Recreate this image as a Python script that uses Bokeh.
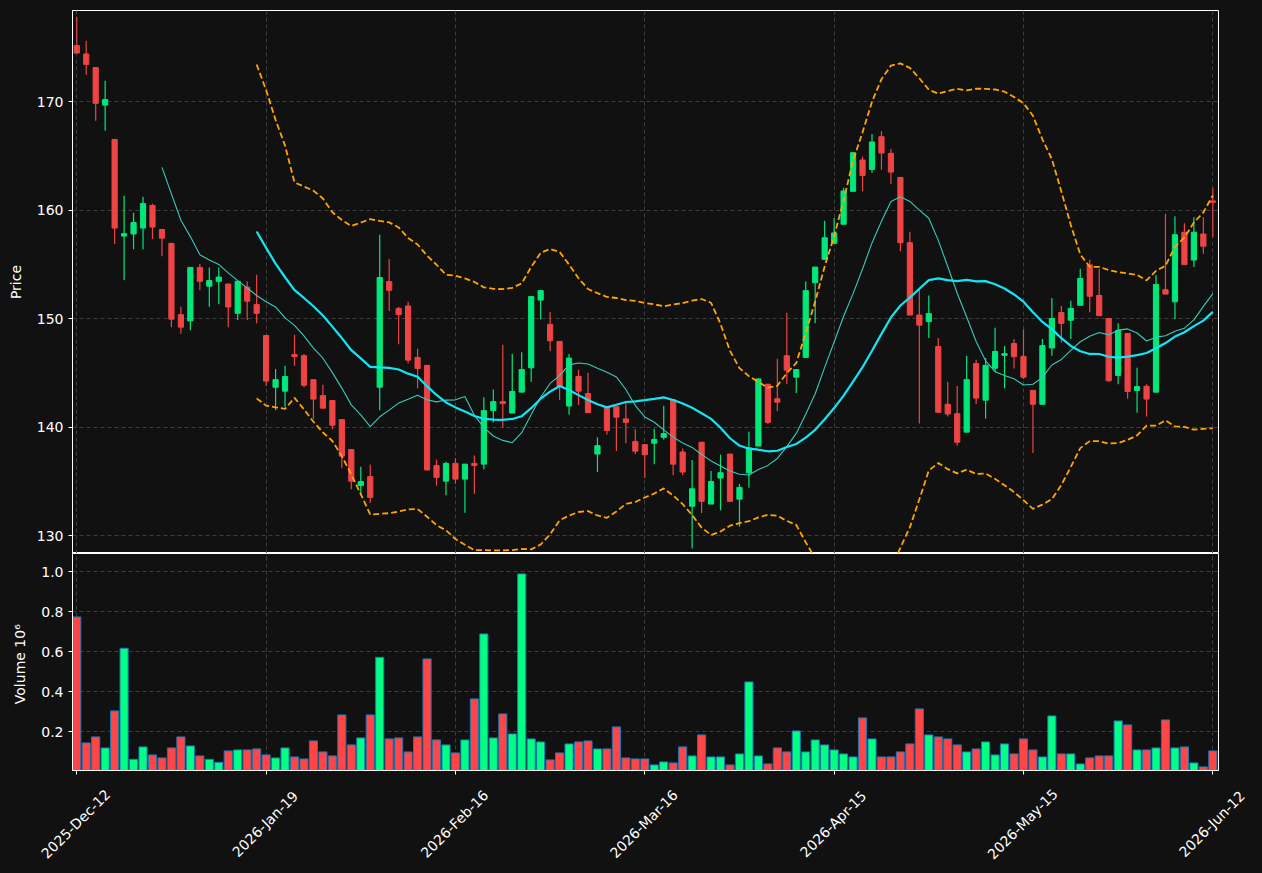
import math
import numpy as np
import pandas as pd
from bokeh.plotting import figure
from bokeh.layouts import column
from bokeh.models import Range1d, FixedTicker, ColumnDataSource, PrintfTickFormatter
from bokeh.core.properties import value
from bokeh.embed import file_html
from bokeh.resources import INLINE

# ---------------- data ----------------
opens = [
    175.2, 174.42, 173.17, 169.71, 166.54, 157.63, 157.82, 158.37, 160.45, 158.24,
    156.96, 150.38, 149.81, 154.74, 153.01, 153.46, 153.21, 150.51, 152.92, 151.31,
    148.46, 143.69, 143.33, 146.7, 146.6, 144.39, 142.92, 142.47, 140.71, 137.95,
    134.62, 135.45, 143.69, 153.43, 150.96, 151.19, 146.44, 145.71, 136.47, 135.03,
    136.67, 135.22, 136.67, 136.6, 141.54, 142.37, 141.31, 143.24, 145.48, 151.73,
    149.49, 147.92, 141.96, 144.68, 143.11, 137.53, 141.89, 141.89, 140.77, 138.69,
    138.4, 138.53, 139.07, 142.53, 137.72, 132.72, 138.62, 132.92, 135.32, 137.53,
    133.37, 135.8, 138.27, 143.97, 142.63, 146.6, 144.62, 146.44, 153.33, 155.48,
    156.96, 158.72, 161.76, 164.65, 163.78, 166.79, 165.26, 163.04, 157.02, 150.35,
    149.74, 147.44, 142.12, 141.25, 139.55, 145.87, 142.5, 145.45, 146.63, 147.72,
    146.54, 143.4, 142.12, 147.31, 150.58, 149.87, 151.25, 154.97, 152.15, 150.03,
    144.78, 148.65, 143.4, 143.78, 143.24, 152.69, 151.57, 157.98, 155.42, 157.82,
    160.87]
closes = [
    174.5, 173.46, 169.87, 170.22, 158.37, 157.85, 158.88, 160.64, 158.46, 157.44,
    149.97, 149.23, 154.74, 153.46, 153.53, 153.85, 151.09, 153.46, 151.63, 150.51,
    144.26, 144.39, 144.68, 146.51, 143.88, 142.6, 141.76, 140.19, 137.34, 135.03,
    135.0, 133.53, 153.81, 152.63, 150.38, 146.19, 145.42, 136.06, 135.38, 136.67,
    135.22, 136.6, 136.47, 141.54, 142.37, 142.18, 143.3, 145.32, 152.05, 152.6,
    147.98, 143.81, 146.38, 143.33, 141.35, 138.3, 139.71, 140.93, 140.45, 137.79,
    137.47, 138.88, 139.42, 136.6, 135.87, 134.33, 133.17, 135.0, 135.81, 133.17,
    134.46, 138.1, 144.46, 140.45, 142.31, 145.26, 145.32, 152.6, 154.77, 157.47,
    157.92, 161.79, 165.32, 163.21, 166.31, 165.29, 163.53, 157.02, 150.35, 149.42,
    150.48, 141.38, 141.22, 138.62, 144.39, 142.69, 145.71, 146.99, 146.79, 146.51,
    144.62, 142.12, 147.53, 150.03, 149.58, 150.96, 153.72, 152.08, 150.29, 144.29,
    148.94, 143.3, 143.75, 142.6, 153.17, 152.28, 157.76, 155.0, 157.98, 156.7,
    160.74]
highs = [
    177.85, 175.64, 173.2, 171.96, 166.54, 161.35, 159.78, 161.25, 160.61, 158.24,
    156.96, 151.12, 154.74, 155.06, 154.74, 154.71, 153.21, 153.46, 153.43, 154.07,
    148.46, 145.38, 145.67, 148.53, 146.76, 144.39, 143.91, 142.47, 140.71, 137.95,
    136.35, 136.57, 157.76, 155.51, 151.12, 151.57, 147.24, 145.71, 137.02, 136.83,
    137.15, 136.6, 137.4, 142.76, 143.49, 147.6, 146.76, 146.92, 152.05, 152.6,
    150.64, 147.92, 146.76, 145.32, 145.03, 139.07, 141.89, 141.89, 142.21, 139.81,
    138.4, 139.87, 141.99, 142.53, 138.04, 136.99, 138.62, 135.96, 137.47, 137.53,
    134.78, 139.58, 144.46, 143.97, 146.31, 150.55, 145.32, 153.43, 154.77, 159.04,
    159.3, 162.08, 165.32, 164.97, 167.05, 167.31, 165.67, 163.04, 158.04, 152.79,
    152.15, 148.24, 144.2, 143.81, 146.6, 146.22, 146.38, 149.17, 147.5, 148.14,
    149.01, 143.4, 148.14, 151.92, 151.19, 151.67, 154.62, 155.45, 154.62, 150.03,
    149.58, 148.65, 145.48, 143.97, 154.04, 159.68, 159.46, 158.81, 159.36, 159.36,
    162.08]
lows = [
    174.5, 172.5, 168.27, 167.34, 156.89, 153.59, 156.41, 156.41, 157.37, 155.77,
    149.23, 148.62, 148.94, 152.63, 151.12, 151.35, 149.23, 149.9, 149.9, 149.58,
    143.81, 141.57, 141.89, 145.67, 143.69, 140.77, 141.76, 139.81, 136.22, 134.29,
    133.72, 133.01, 141.57, 150.71, 147.66, 145.9, 143.59, 136.06, 134.62, 133.72,
    134.78, 132.12, 133.88, 136.12, 140.45, 139.97, 141.31, 143.24, 144.2, 149.97,
    147.02, 142.53, 141.15, 142.05, 141.35, 135.87, 139.33, 137.82, 138.53, 137.53,
    135.32, 136.6, 138.85, 135.58, 135.58, 128.81, 132.08, 132.92, 132.34, 133.17,
    130.83, 134.42, 138.27, 140.29, 141.5, 143.97, 143.17, 146.44, 149.58, 155.48,
    156.96, 158.72, 161.76, 161.76, 163.46, 163.75, 162.44, 156.22, 150.35, 140.35,
    148.24, 141.38, 140.99, 138.3, 139.55, 142.15, 140.8, 145.1, 143.59, 145.42,
    144.46, 137.63, 142.12, 146.6, 147.82, 148.14, 151.25, 150.61, 150.29, 144.2,
    143.97, 142.63, 141.35, 140.99, 143.24, 152.28, 149.97, 155.0, 154.78, 155.99,
    157.53]
volumes = [  # in millions
    0.775, 0.145, 0.175, 0.12, 0.305, 0.618, 0.063, 0.125, 0.085, 0.07,
    0.12, 0.175, 0.13, 0.08, 0.063, 0.048, 0.105, 0.11, 0.11, 0.115,
    0.085, 0.07, 0.12, 0.075, 0.065, 0.155, 0.10, 0.08, 0.285, 0.135,
    0.17, 0.285, 0.573, 0.165, 0.17, 0.10, 0.175, 0.565, 0.16, 0.135,
    0.095, 0.16, 0.365, 0.69, 0.17, 0.29, 0.19, 0.99, 0.165, 0.15,
    0.06, 0.095, 0.14, 0.15, 0.155, 0.115, 0.115, 0.225, 0.07, 0.065,
    0.065, 0.035, 0.05, 0.045, 0.125, 0.08, 0.185, 0.075, 0.075, 0.035,
    0.09, 0.45, 0.08, 0.04, 0.12, 0.10, 0.205, 0.10, 0.16, 0.135,
    0.11, 0.09, 0.075, 0.27, 0.165, 0.075, 0.075, 0.10, 0.14, 0.315,
    0.185, 0.175, 0.165, 0.135, 0.10, 0.115, 0.15, 0.085, 0.14, 0.09,
    0.165, 0.11, 0.075, 0.28, 0.09, 0.09, 0.04, 0.07, 0.08, 0.08,
    0.255, 0.235, 0.11, 0.11, 0.12, 0.26, 0.12, 0.125, 0.045, 0.025,
    0.105]
tick_positions = [0, 20, 40, 60, 80, 100, 120]
tick_labels = ["2025-Dec-12", "2026-Jan-19", "2026-Feb-16", "2026-Mar-16",
               "2026-Apr-15", "2026-May-15", "2026-Jun-12"]

# ---------------- derived ----------------
n = len(closes)
idx = np.arange(n)
close_s = pd.Series(closes)
ma10 = close_s.rolling(10).mean()
ma20 = close_s.rolling(20).mean()
sd20 = close_s.rolling(20).std(ddof=0)
upper = ma20 + 2 * sd20
lower = ma20 - 2 * sd20

BG = "#111111"
UP_C, DN_C = "#00e87a", "#ee4444"
VUP_C, VDN_C = "#00ff84", "#ff4545"
FONT = "DejaVu Sans"
GRID_C = "#444444"

up = [c >= o for o, c in zip(opens, closes)]
src = ColumnDataSource(dict(
    x=idx, o=opens, c=closes, h=highs, l=lows,
    top=[max(o, c) for o, c in zip(opens, closes)],
    bot=[min(o, c) for o, c in zip(opens, closes)],
    col=[UP_C if u else DN_C for u in up],
    vcol=[VUP_C if u else VDN_C for u in up],
    v=volumes,
))

# layout (pixels)
W = 1262
LEFT, RIGHT = 72, 44
xr = Range1d(-0.45, 120.6)


def style(p):
    p.background_fill_color = BG
    p.border_fill_color = BG
    p.outline_line_color = "white"
    p.outline_line_width = 1
    for ax in p.yaxis:
        ax.axis_line_color = "white"
        ax.major_tick_line_color = "white"
        ax.major_tick_out = 4
        ax.major_tick_in = 0
        ax.minor_tick_line_color = None
        ax.major_label_text_color = "white"
        ax.major_label_text_font = FONT
        ax.major_label_text_font_size = "14px"
        ax.axis_label_text_color = "white"
        ax.axis_label_text_font = FONT
        ax.axis_label_text_font_size = "14px"
        ax.axis_label_text_font_style = "normal"
        ax.axis_label_standoff = 10
    for g in (p.xgrid, p.ygrid):
        g.grid_line_color = GRID_C
        g.grid_line_dash = "4 3"
        g.grid_line_width = 1
        g.grid_line_alpha = 0.9


# ---------------- price panel ----------------
p1 = figure(width=W, height=553, x_range=xr, y_range=Range1d(128.36, 178.43),
            output_backend="svg", toolbar_location=None, x_axis_location=None,
            min_border_left=LEFT, min_border_right=RIGHT, min_border_top=10, min_border_bottom=0)
style(p1)
p1.yaxis.axis_label = "Price"
p1.yaxis.ticker = FixedTicker(ticks=[130, 140, 150, 160, 170])
p1.xgrid.ticker = FixedTicker(ticks=tick_positions)

p1.segment(x0="x", y0="l", x1="x", y1="h", color="col", line_width=1.2, source=src)
p1.vbar(x="x", top="top", bottom="bot", width=0.55, fill_color="col", line_color="col",
        line_width=1, source=src)

p1.line(idx, ma10.values, color="#3cc9b9", line_width=1.1)
p1.line(idx, ma20.values, color="#12e6f5", line_width=2.2)
p1.line(idx, upper.values, color="#ffa500", line_width=1.8, line_dash="6 3")
p1.line(idx, lower.values, color="#ffa500", line_width=1.8, line_dash="6 3")

# ---------------- volume panel ----------------
VOL_FRAME_H = 217
VOL_BOTTOM = 12
p2 = figure(width=W, height=VOL_FRAME_H + VOL_BOTTOM, x_range=xr, y_range=Range1d(0.007, 1.092),
            output_backend="svg", toolbar_location=None,
            min_border_left=LEFT, min_border_right=RIGHT, min_border_top=0,
            min_border_bottom=VOL_BOTTOM)
style(p2)
p2.yaxis.axis_label = "Volume  10\u2076"
p2.yaxis.ticker = FixedTicker(ticks=[0.2, 0.4, 0.6, 0.8, 1.0])
p2.yaxis.formatter = PrintfTickFormatter(format="%.1f")

p2.xaxis.ticker = FixedTicker(ticks=tick_positions)
p2.xaxis.major_label_overrides = {t: "" for t in tick_positions}
p2.xaxis.major_label_text_font_size = "0px"
p2.xaxis.major_label_standoff = 0
p2.xaxis.axis_line_color = "white"
p2.xaxis.major_tick_line_color = "white"
p2.xaxis.major_tick_out = 4
p2.xaxis.major_tick_in = 0
p2.xaxis.minor_tick_line_color = None

p2.vbar(x="x", top="v", bottom=0, width=0.86, fill_color="vcol", line_color="#1f77b4",
        line_width=1, source=src)

# ---------------- date label strip (own root, same x scale as the panels) ----------------
LAB_H = 873 - 553 - (VOL_FRAME_H + VOL_BOTTOM)
ppu = (W - LEFT - RIGHT) / (xr.end - xr.start)
xr_lab = Range1d(xr.start - LEFT / ppu, xr.end + RIGHT / ppu)
p3 = figure(width=W, height=LAB_H, x_range=xr_lab, y_range=Range1d(0, LAB_H),
            output_backend="svg", toolbar_location=None,
            x_axis_location=None, y_axis_location=None,
            min_border=0, min_border_left=0, min_border_right=0,
            min_border_top=0, min_border_bottom=0)
p3.background_fill_color = BG
p3.border_fill_color = BG
p3.outline_line_color = None
p3.xgrid.visible = False
p3.ygrid.visible = False
label_center_from_top = 823.5 - (553 + VOL_FRAME_H + VOL_BOTTOM)
p3.text(x=[t - 0.1 for t in tick_positions], y=[LAB_H - label_center_from_top] * len(tick_positions),
        text=tick_labels, angle=math.pi / 4, text_align="center", text_baseline="middle",
        text_color="white", text_font=value(FONT), text_font_size="14px")

panels = column(p1, p2, spacing=0)
panels.styles = {"background-color": BG}
html = file_html([panels, p3], INLINE, title="chart")
html = html.replace("<body>", '<body style="margin:0;background:#111111;">')
open("out.html", "w").write(html)
